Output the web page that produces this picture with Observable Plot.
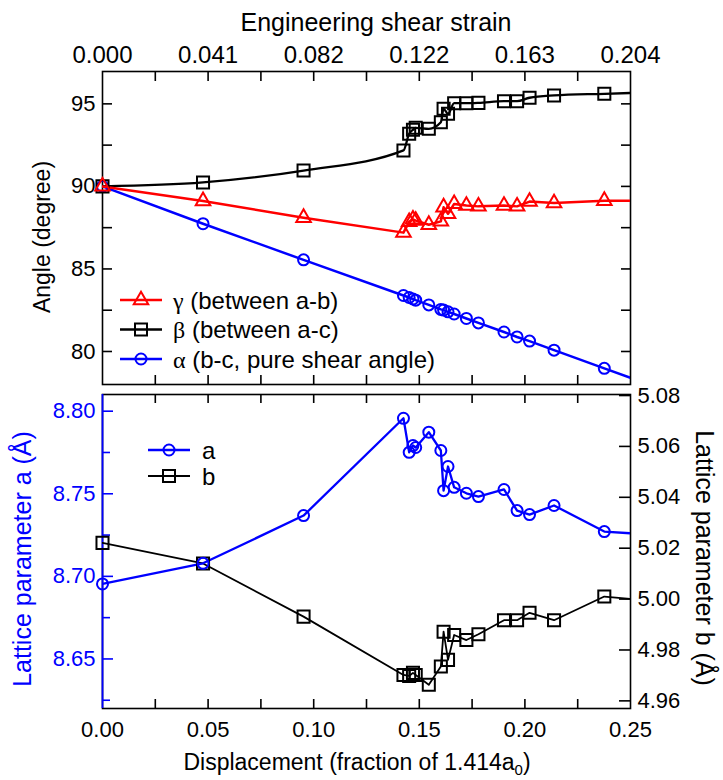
<!DOCTYPE html>
<html>
<head>
<meta charset="utf-8">
<script src="https://cdn.jsdelivr.net/npm/d3@7"></script>
<script src="https://cdn.jsdelivr.net/npm/@observablehq/plot@0.6"></script>
<style>
  body { margin: 0; background: #ffffff; }
  #wrap { position: relative; width: 723px; height: 780px; background: #ffffff; }
  #wrap svg { position: absolute; left: 0; overflow: visible; }
</style>
</head>
<body>
<div id="wrap"></div>
<script>
// ---------------- data ----------------
// displacement (fraction of 1.414 a0); the last entry lies past the axis end (the lines run off the frame)
const displacement = [0, 0.0476, 0.0952, 0.1425, 0.1452, 0.1470, 0.1483, 0.1545, 0.1602, 0.1615, 0.1636, 0.1665, 0.1723, 0.1780, 0.1901, 0.1963, 0.2022, 0.2138, 0.2376, 0.2857];
// angles (degree)
const gammaAngle = [90.0, 89.12, 88.10, 87.20, 87.85, 88.00, 87.93, 87.68, 87.88, 88.74, 88.34, 88.94, 88.84, 88.79, 88.84, 88.79, 89.08, 88.99, 89.13, 89.15];
const betaAngle  = [90.0, 90.24, 90.96, 92.18, 93.19, 93.43, 93.55, 93.49, 93.89, 94.70, 94.40, 95.04, 95.04, 95.06, 95.16, 95.16, 95.37, 95.51, 95.61, 95.80];
const alphaAngle = [90.0, 87.74, 85.55, 83.39, 83.27, 83.18, 83.11, 82.82, 82.55, 82.51, 82.40, 82.27, 82.00, 81.73, 81.18, 80.88, 80.63, 80.08, 78.98, 76.75];
// lattice parameters (Å)
const latticeA = [8.6954, 8.7079, 8.7368, 8.7957, 8.7751, 8.7792, 8.7780, 8.7873, 8.7762, 8.7519, 8.7665, 8.7539, 8.7503, 8.7483, 8.7526, 8.7398, 8.7374, 8.7429, 8.7271, 8.7232];
const latticeB = [5.0221, 5.0140, 4.9931, 4.9702, 4.9698, 4.9710, 4.9702, 4.9663, 4.9735, 4.9872, 4.9761, 4.9859, 4.9839, 4.9862, 4.9917, 4.9917, 4.9946, 4.9917, 5.0010, 4.9975];

// axes
const xDomain = [0, 0.25];
const angleDomain = [78, 96.96];
const aDomain = [8.62, 8.8101];
const bDomain = [4.957, 5.0804];
const dispTicks = [0, 0.05, 0.10, 0.15, 0.20, 0.25];
const dispMinorTicks = [0.025, 0.05, 0.075, 0.10, 0.125, 0.15, 0.175, 0.20, 0.225];
const strainLabels = ["0.000", "0.041", "0.082", "0.122", "0.163", "0.204"];
const angleTicks = [80, 85, 90, 95];
const angleMinorTicks = [82.5, 87.5, 92.5];
const aTicks = [8.65, 8.70, 8.75, 8.80];
const aMinorTicks = [8.625, 8.675, 8.725, 8.775];
const bTicks = [4.96, 4.98, 5.00, 5.02, 5.04, 5.06, 5.08];

// ---------------- styling / layout ----------------
const BLUE = "#0000ff", RED = "#ff0000", BLACK = "#000000";
const FONT = "'Liberation Sans', Arial, Helvetica, sans-serif";
const SERIF = "'Liberation Serif', 'Times New Roman', serif";
const W = 723, ML = 102, MR = 93, PW = W - ML - MR;
const TOP = {height: 390, mt: 71, mb: 6};
const BOT = {height: 392, mt: 6, mb: 72, offset: 388};
const TOP_PH = TOP.height - TOP.mt - TOP.mb;
const BOT_PH = BOT.height - BOT.mt - BOT.mb;
const xMax = xDomain[1];

const rows = (ys, map = d => d) => displacement.map((x, i) => ({x, y: map(ys[i])}));
const bToA = d3.scaleLinear().domain(bDomain).range(aDomain);

// inward tick helpers (positions come from the scales, length from insets)
const ticksLeft = (vals, len, color) => Plot.tickY(vals, {y: d => d, insetRight: PW - len, stroke: color, strokeWidth: 1.6});
const ticksRight = (vals, len, color) => Plot.tickY(vals, {y: d => d, insetLeft: PW - len, stroke: color, strokeWidth: 1.6});
const ticksTop = (vals, len, ph) => Plot.tickX(vals, {x: d => d, insetBottom: ph - len, stroke: BLACK, strokeWidth: 1.6});
const ticksBottom = (vals, len, ph) => Plot.tickX(vals, {x: d => d, insetTop: ph - len, stroke: BLACK, strokeWidth: 1.6});

function legendMark(items, {x0, y0, step, len, gap, fontSize}) {
  return () => {
    const g = d3.create("svg:g");
    items.forEach((r, i) => {
      const y = y0 + i * step;
      g.append("line").attr("x1", x0).attr("x2", x0 + len).attr("y1", y).attr("y2", y)
        .attr("stroke", r.color).attr("stroke-width", r.lineWidth);
      g.append("path").attr("d", d3.symbol(r.symbol, r.size)())
        .attr("transform", `translate(${x0 + len / 2},${y})`)
        .attr("fill", "none").attr("stroke", r.color).attr("stroke-width", 2);
      const t = g.append("text").attr("x", x0 + len + gap).attr("y", y).attr("dy", "0.36em")
        .attr("text-anchor", "start")
        .attr("font-size", fontSize).attr("font-family", FONT).attr("fill", BLACK);
      if (r.greek) t.append("tspan").attr("font-family", SERIF).text(r.greek);
      t.append("tspan").text(r.text);
    });
    return g.node();
  };
}

function textMark(build) {
  return () => { const g = d3.create("svg:g"); build(g); return g.node(); };
}

// ---------------- top panel: angles ----------------
const topPlot = Plot.plot({
  width: W, height: TOP.height,
  marginLeft: ML, marginRight: MR, marginTop: TOP.mt, marginBottom: TOP.mb,
  style: {fontFamily: FONT, fontSize: "22px", color: BLACK, background: "transparent", overflow: "visible"},
  x: {domain: xDomain, label: null},
  y: {domain: angleDomain, label: null},
  marks: [
    Plot.frame({stroke: BLACK, strokeWidth: 1.6}),
    ticksLeft([...angleTicks, ...angleMinorTicks], 10, BLACK),
    ticksRight([...angleTicks, ...angleMinorTicks], 9, BLACK),
    ticksTop(dispMinorTicks, 10, TOP_PH),
    ticksBottom(dispMinorTicks, 9, TOP_PH),
    Plot.axisY({anchor: "left", ticks: angleTicks, tickSize: 0, tickPadding: 7, label: null, fontSize: 22}),
    Plot.axisX({anchor: "top", ticks: dispTicks, tickSize: 0, tickPadding: 9, label: null, fontSize: 24,
      tickFormat: d => strainLabels[dispTicks.indexOf(d)]}),
    Plot.line(rows(alphaAngle), {x: "x", y: "y", stroke: BLUE, strokeWidth: 2.5, clip: true}),
    Plot.line(rows(betaAngle), {x: "x", y: "y", stroke: BLACK, strokeWidth: 2.3, curve: "monotone-x", clip: true}),
    Plot.line(rows(gammaAngle), {x: "x", y: "y", stroke: RED, strokeWidth: 2.5, clip: true}),
    Plot.dot(rows(alphaAngle), {x: "x", y: "y", symbol: "circle", r: 5.5, stroke: BLUE, strokeWidth: 2, fill: "none", filter: d => d.x <= xMax}),
    Plot.dot(rows(betaAngle), {x: "x", y: "y", symbol: "square", r: 6.8, stroke: BLACK, strokeWidth: 2, fill: "none", filter: d => d.x <= xMax}),
    Plot.dot(rows(gammaAngle), {x: "x", y: "y", symbol: "triangle", r: 5.4, stroke: RED, strokeWidth: 2, fill: "none", filter: d => d.x <= xMax}),
    legendMark([
      {greek: "γ", text: " (between a-b)", color: RED, lineWidth: 2.5, symbol: d3.symbolTriangle, size: 91},
      {greek: "β", text: " (between a-c)", color: BLACK, lineWidth: 2.3, symbol: d3.symbolSquare, size: 144},
      {greek: "α", text: " (b-c, pure shear angle)", color: BLUE, lineWidth: 2.5, symbol: d3.symbolCircle, size: 95}
    ], {x0: 120, y0: 300, step: 29.5, len: 42, gap: 11, fontSize: 24}),
    textMark(g => {
      g.append("text").attr("x", 376).attr("y", 31).attr("text-anchor", "middle")
        .attr("font-size", 25).attr("font-family", FONT).attr("fill", BLACK).text("Engineering shear strain");
      g.append("text").attr("transform", "translate(50,237) rotate(-90)").attr("text-anchor", "middle")
        .attr("font-size", 23).attr("font-family", FONT).attr("fill", BLACK).text("Angle (degree)");
    })
  ]
});

// ---------------- bottom panel: lattice parameters ----------------
const botPlot = Plot.plot({
  width: W, height: BOT.height,
  marginLeft: ML, marginRight: MR, marginTop: BOT.mt, marginBottom: BOT.mb,
  style: {fontFamily: FONT, fontSize: "22px", color: BLACK, background: "transparent", overflow: "visible"},
  x: {domain: xDomain, label: null},
  y: {domain: aDomain, label: null},
  marks: [
    Plot.frame({stroke: BLACK, strokeWidth: 1.6}),
    Plot.ruleX([xDomain[0]], {stroke: BLUE, strokeWidth: 1.8}),
    ticksLeft(aTicks, 11, BLUE),
    ticksLeft(aMinorTicks, 8, BLUE),
    ticksRight(bTicks.map(bToA), 11, BLACK),
    ticksTop(dispMinorTicks, 9, BOT_PH),
    ticksBottom(dispMinorTicks, 9, BOT_PH),
    Plot.axisY({anchor: "left", ticks: aTicks, tickSize: 0, tickPadding: 7, label: null, fontSize: 22, color: BLUE,
      tickFormat: d3.format(".2f")}),
    Plot.axisY({anchor: "right", ticks: bTicks.map(bToA), tickSize: 0, tickPadding: 7, label: null, fontSize: 22,
      tickFormat: d => d3.format(".2f")(bToA.invert(d))}),
    Plot.axisX({anchor: "bottom", ticks: dispTicks, tickSize: 0, tickPadding: 13, label: null, fontSize: 22,
      tickFormat: d3.format(".2f")}),
    Plot.line(rows(latticeB, bToA), {x: "x", y: "y", stroke: BLACK, strokeWidth: 1.8, clip: true}),
    Plot.line(rows(latticeA), {x: "x", y: "y", stroke: BLUE, strokeWidth: 2.3, clip: true}),
    Plot.dot(rows(latticeB, bToA), {x: "x", y: "y", symbol: "square", r: 6.8, stroke: BLACK, strokeWidth: 2, fill: "none", filter: d => d.x <= xMax}),
    Plot.dot(rows(latticeA), {x: "x", y: "y", symbol: "circle", r: 5.5, stroke: BLUE, strokeWidth: 2, fill: "none", filter: d => d.x <= xMax}),
    legendMark([
      {text: "a", color: BLUE, lineWidth: 2.3, symbol: d3.symbolCircle, size: 95},
      {text: "b", color: BLACK, lineWidth: 1.8, symbol: d3.symbolSquare, size: 144}
    ], {x0: 148, y0: 450 - BOT.offset, step: 26, len: 42, gap: 12, fontSize: 24}),
    textMark(g => {
      const t = g.append("text").attr("x", 357).attr("y", 770 - BOT.offset).attr("text-anchor", "middle")
        .attr("font-size", 23).attr("font-family", FONT).attr("fill", BLACK);
      t.append("tspan").text("Displacement (fraction of 1.414a");
      t.append("tspan").attr("font-size", 15).attr("dy", 5).text("0");
      t.append("tspan").attr("dy", -5).text(")");
      g.append("text").attr("transform", `translate(31,${559 - BOT.offset}) rotate(-90)`).attr("text-anchor", "middle")
        .attr("font-size", 25).attr("font-family", FONT).attr("fill", BLUE).text("Lattice parameter a (Å)");
      g.append("text").attr("transform", `translate(696,${558 - BOT.offset}) rotate(90)`).attr("text-anchor", "middle")
        .attr("font-size", 25).attr("font-family", FONT).attr("fill", BLACK).text("Lattice parameter b (Å)");
    })
  ]
});

const wrap = document.getElementById("wrap");
topPlot.style.top = "0px";
botPlot.style.top = BOT.offset + "px";
wrap.appendChild(topPlot);
wrap.appendChild(botPlot);
</script>
</body>
</html>
